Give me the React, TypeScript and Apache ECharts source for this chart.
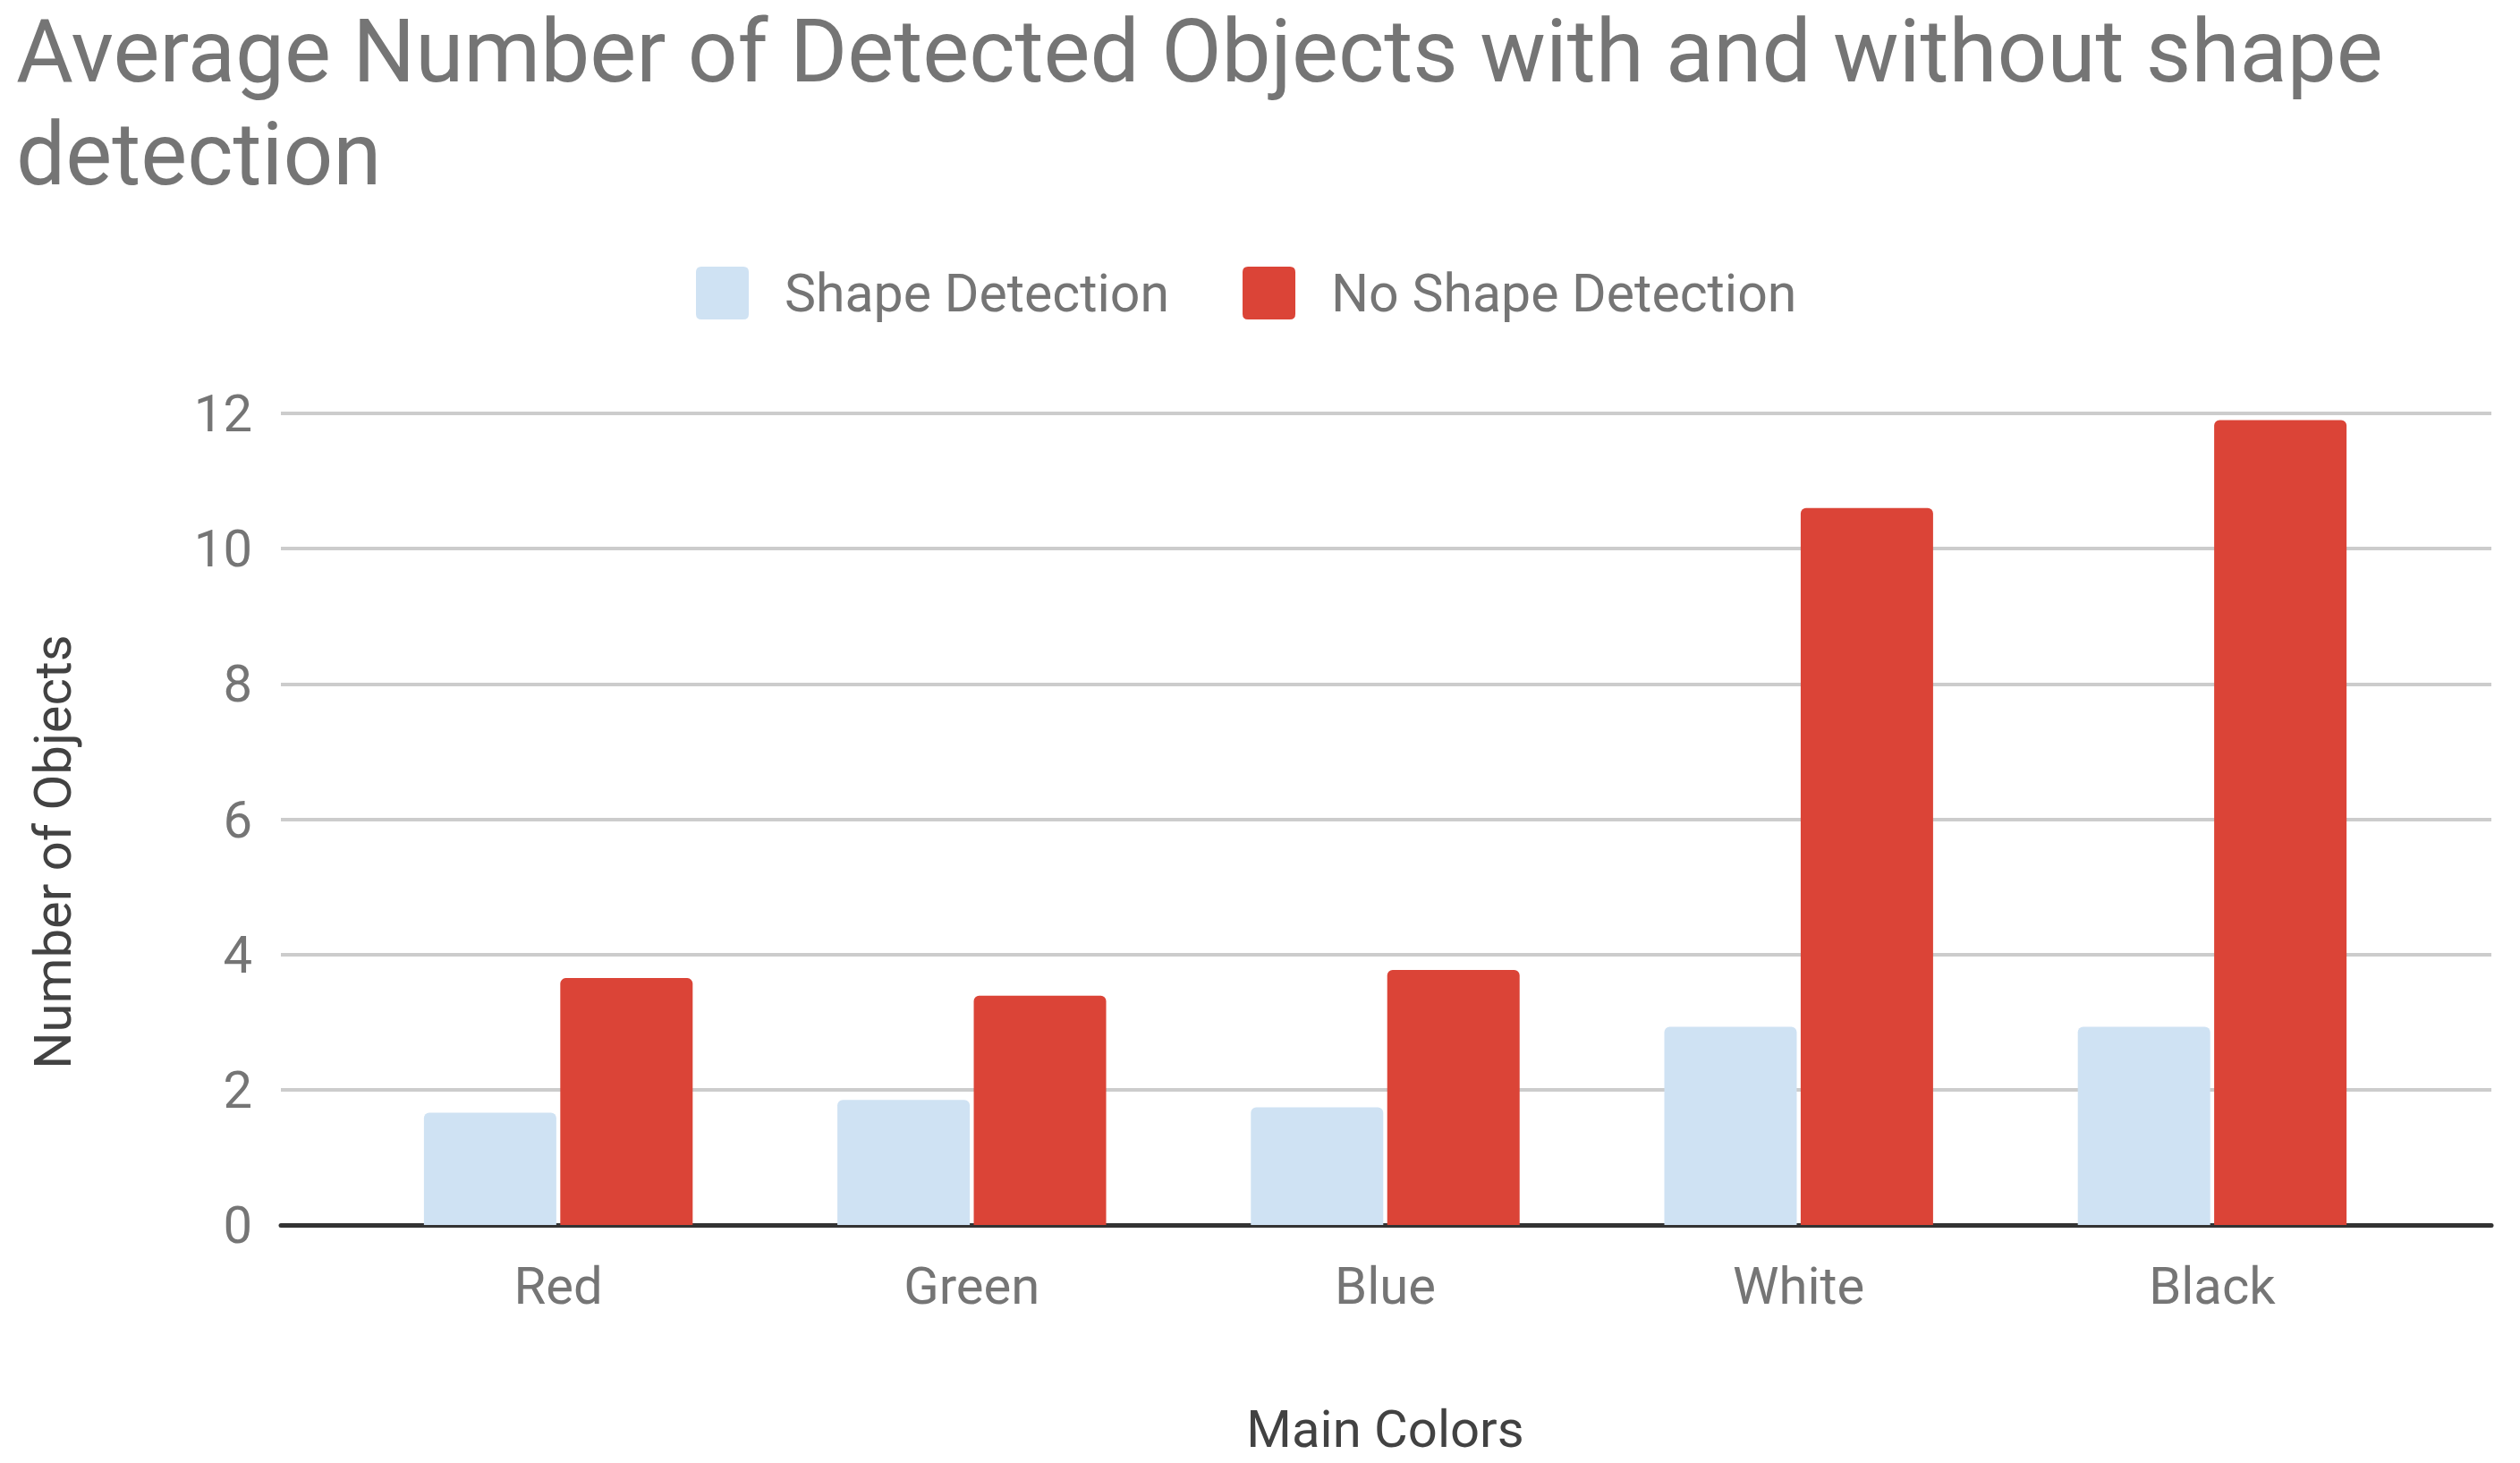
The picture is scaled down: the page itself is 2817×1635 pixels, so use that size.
import React, { useEffect, useRef } from "react";
import * as echarts from "echarts";

const categories = ["Red", "Green", "Blue", "White", "Black"];
const shapeDetection = [1.66, 1.85, 1.74, 2.93, 2.93];
const noShapeDetection = [3.65, 3.39, 3.77, 10.6, 11.9];
const seriesNames = ["Shape Detection", "No Shape Detection"];
const titleText = "Average Number of Detected Objects with and without shape\ndetection";
const xAxisTitle = "Main Colors";
const yAxisTitle = "Number of Objects";

const FONT = "Roboto";
const W = 2817;
const H = 1635;

export default function App() {
  const ref = useRef<HTMLDivElement>(null);
  useEffect(() => {
    if (!ref.current) return;
    const chart = echarts.init(ref.current, null, { renderer: "svg", width: W, height: H });
    const iconPath =
      "path://M6,0 H53 Q59,0 59,6 V53 Q59,59 53,59 H6 Q0,59 0,53 V6 Q0,0 6,0 Z";
    chart.setOption({
      animation: false,
      backgroundColor: "#ffffff",
      textStyle: { fontFamily: FONT },
      title: {
        text: titleText,
        left: 18,
        top: 0,
        padding: 0,
        textStyle: {
          fontFamily: FONT,
          fontSize: 98,
          fontWeight: "normal",
          color: "#757575",
          lineHeight: 115,
        },
      },
      legend: {
        left: 778,
        top: 298,
        itemWidth: 59,
        itemHeight: 59,
        itemGap: 82,
        padding: 0,
        data: seriesNames.map((n) => ({ name: n, icon: iconPath })),
        textStyle: {
          fontFamily: FONT,
          fontSize: 59,
          color: "#757575",
          padding: [0, 0, 0, 35],
        },
      },
      grid: [
        { left: 314, right: 32, top: 462, bottom: 266 },
        { left: 393, right: 113, top: 462, bottom: 266 },
      ],
      xAxis: [
        {
          gridIndex: 0,
          type: "value",
          min: 0,
          max: 1,
          axisLine: { show: true, onZero: false, lineStyle: { color: "#333333", width: 5 } },
          axisTick: { show: false },
          axisLabel: { show: false },
          splitLine: { show: false },
        },
        {
          gridIndex: 1,
          type: "category",
          data: categories,
          axisLine: { show: false },
          axisTick: { show: false },
          axisLabel: {
            fontFamily: FONT,
            fontSize: 58,
            color: "#757575",
            margin: 39,
          },
          name: xAxisTitle,
          nameLocation: "middle",
          nameGap: 199,
          nameTextStyle: { fontFamily: FONT, fontSize: 58, color: "#424242" },
        },
      ],
      yAxis: [
        {
          gridIndex: 0,
          type: "value",
          min: 0,
          max: 12,
          interval: 2,
          axisLine: { show: false },
          axisTick: { show: false },
          axisLabel: { fontFamily: FONT, fontSize: 58, color: "#757575", margin: 32 },
          splitLine: { show: true, lineStyle: { color: "#cccccc", width: 4 } },
        },
        {
          gridIndex: 1,
          type: "value",
          min: 0,
          max: 12,
          interval: 2,
          show: false,
          splitLine: { show: false },
        },
      ],
      graphic: [
        {
          type: "text",
          x: 59,
          y: 952,
          rotation: Math.PI / 2,
          style: {
            text: yAxisTitle,
            fontFamily: FONT,
            fontSize: 58,
            fill: "#424242",
            align: "center",
            verticalAlign: "middle",
          },
        },
      ],
      series: [
        {
          name: seriesNames[0],
          type: "bar",
          xAxisIndex: 1,
          yAxisIndex: 1,
          data: shapeDetection,
          barGap: "3%",
          barCategoryGap: "35%",
          itemStyle: { color: "#cfe2f3", borderRadius: [6, 6, 0, 0] },
        },
        {
          name: seriesNames[1],
          type: "bar",
          xAxisIndex: 1,
          yAxisIndex: 1,
          data: noShapeDetection,
          barGap: "3%",
          barCategoryGap: "35%",
          itemStyle: { color: "#db4437", borderRadius: [6, 6, 0, 0] },
        },
      ],
    });
    return () => chart.dispose();
  }, []);
  return (
    <div
      ref={ref}
      style={{ position: "fixed", left: 0, top: 0, width: W, height: H }}
    />
  );
}
